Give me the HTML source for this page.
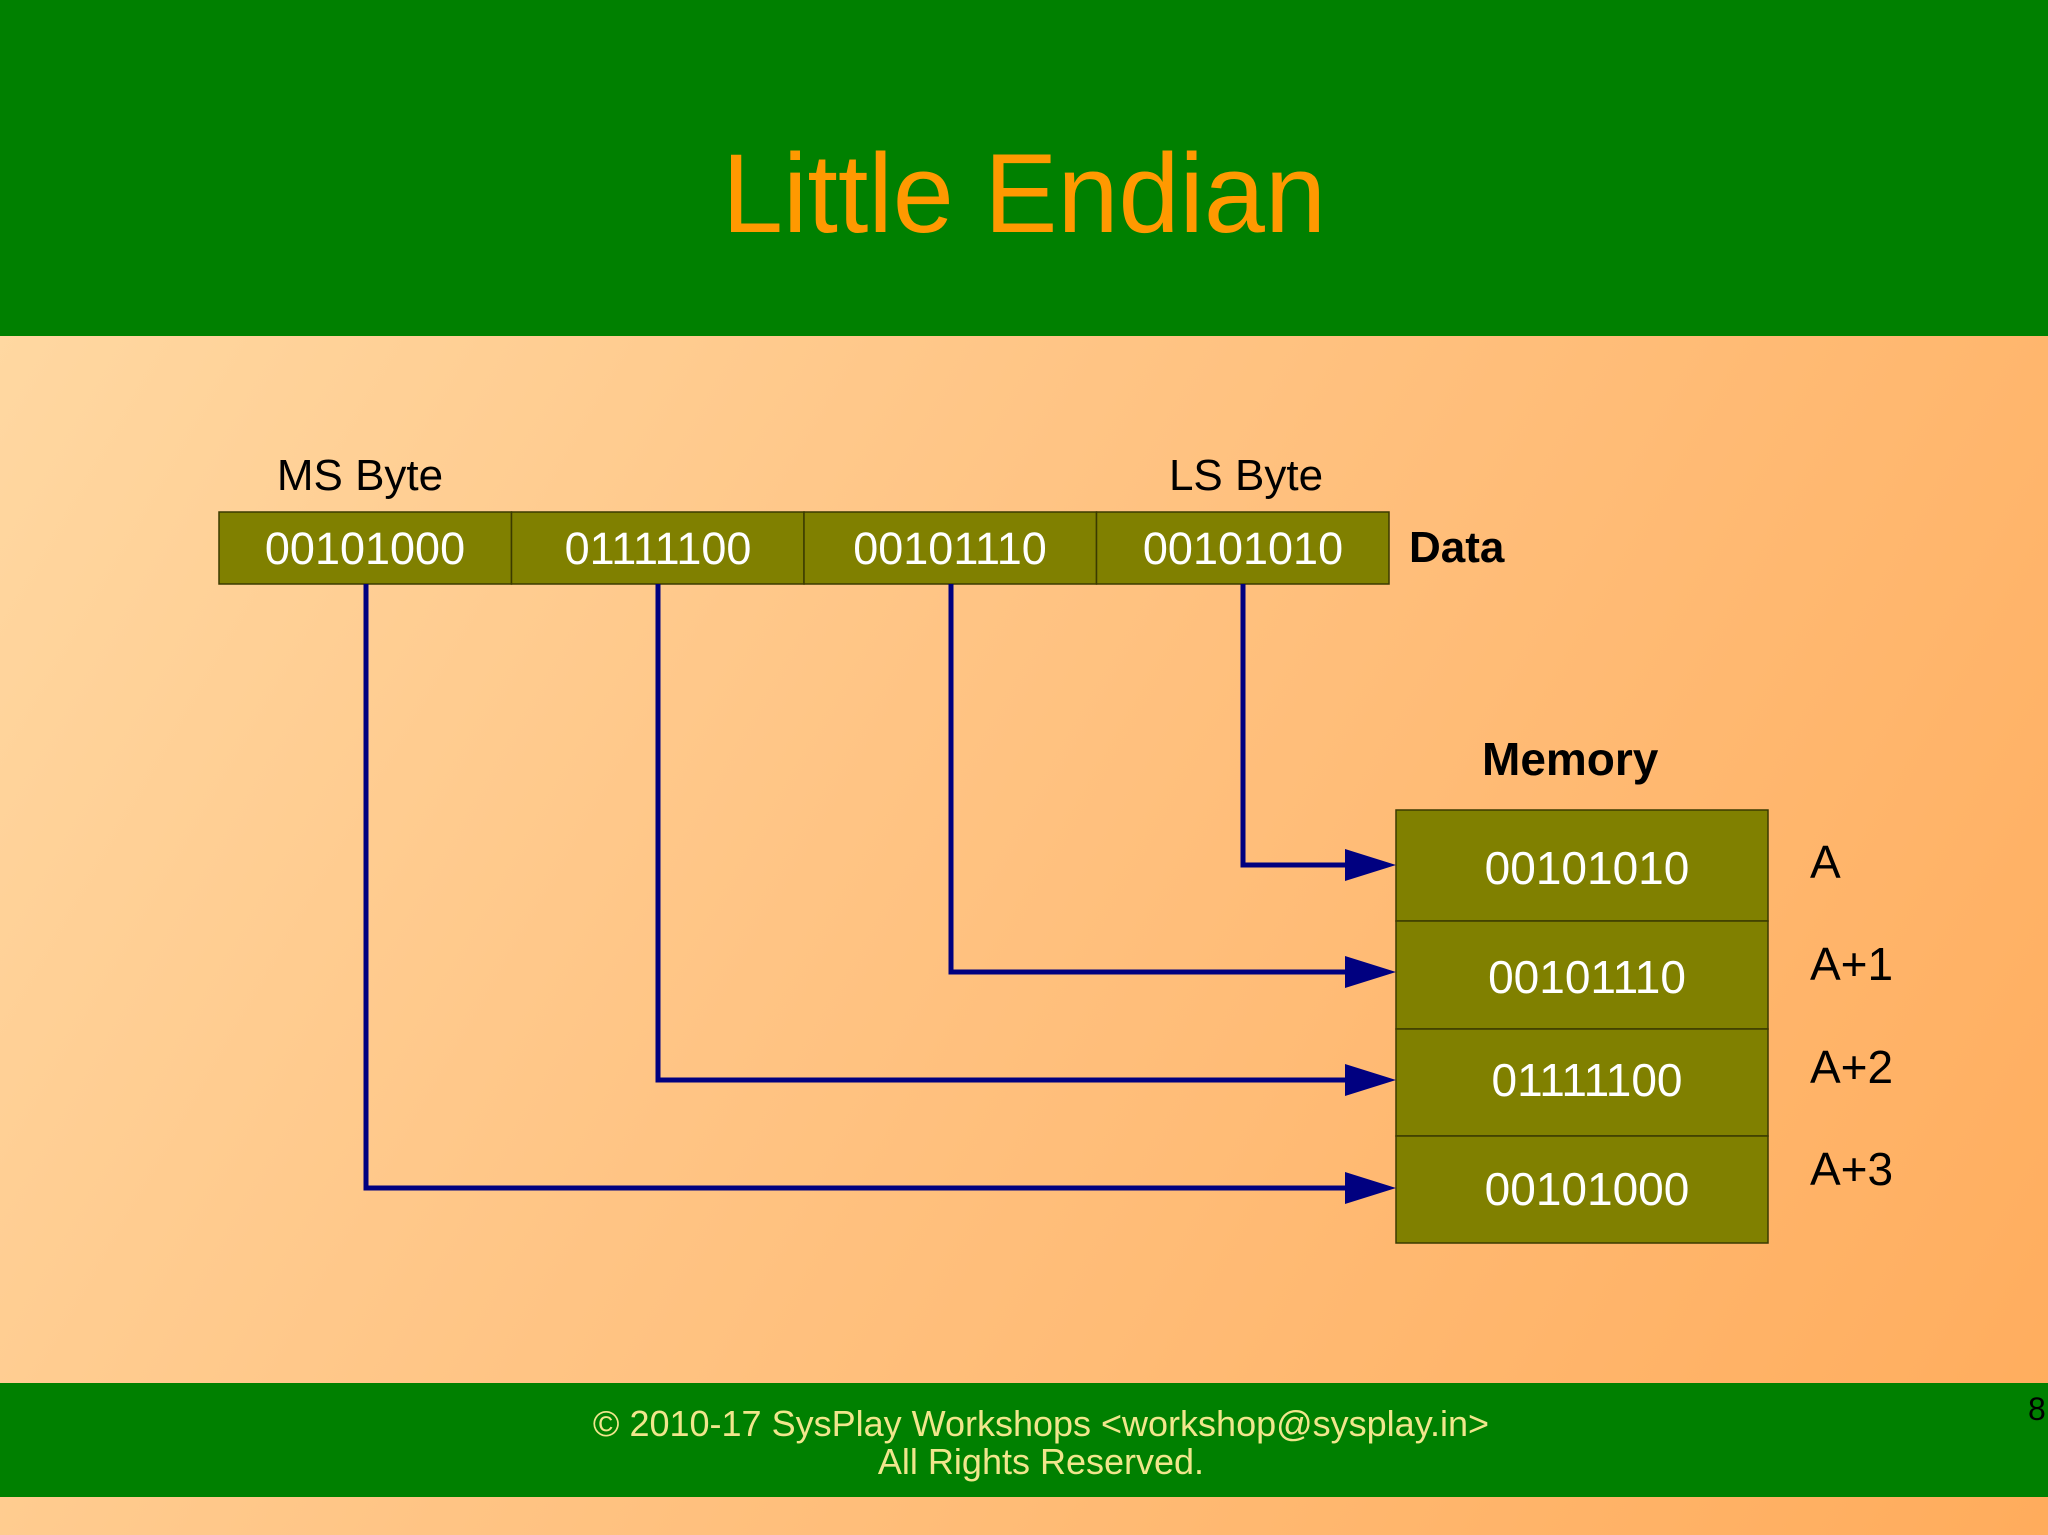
<!DOCTYPE html>
<html><head><meta charset="utf-8"><style>
html,body{margin:0;padding:0}
body{width:2048px;height:1535px;overflow:hidden;background:linear-gradient(120deg,#ffdba6 0%,#ffc484 45%,#ffac5c 100%);font-family:"Liberation Sans",sans-serif}
</style></head><body>
<svg width="2048" height="1535" viewBox="0 0 2048 1535" xmlns="http://www.w3.org/2000/svg" style="position:absolute;left:0;top:0;font-family:'Liberation Sans',sans-serif">
<rect x="0" y="0" width="2048" height="336" fill="#008000"/>
<text x="1024" y="232" text-anchor="middle" font-size="112" fill="#ff9900" textLength="604" lengthAdjust="spacingAndGlyphs">Little Endian</text>
<text x="360" y="490" text-anchor="middle" font-size="44" fill="#000">MS Byte</text>
<text x="1246" y="490" text-anchor="middle" font-size="44" fill="#000">LS Byte</text>
<g stroke="#3a3a00" stroke-width="1.5" fill="#808000">
<rect x="219" y="512" width="292.5" height="72"/>
<rect x="511.5" y="512" width="292.5" height="72"/>
<rect x="804" y="512" width="292.5" height="72"/>
<rect x="1096.5" y="512" width="292.5" height="72"/>
</g>
<g font-size="45" fill="#fff" text-anchor="middle">
<text x="365" y="564">00101000</text>
<text x="658" y="564">01111100</text>
<text x="950" y="564">00101110</text>
<text x="1243" y="564">00101010</text>
</g>
<text x="1409" y="562" font-size="44" font-weight="bold" fill="#000">Data</text>
<text x="1482" y="775" font-size="46" font-weight="bold" fill="#000">Memory</text>
<g stroke="#3a3a00" stroke-width="1.5" fill="#808000">
<rect x="1396" y="810" width="372" height="111"/>
<rect x="1396" y="921" width="372" height="108"/>
<rect x="1396" y="1029" width="372" height="107"/>
<rect x="1396" y="1136" width="372" height="107"/>
</g>
<g font-size="46" fill="#fff" text-anchor="middle">
<text x="1587" y="884">00101010</text>
<text x="1587" y="993">00101110</text>
<text x="1587" y="1096">01111100</text>
<text x="1587" y="1205">00101000</text>
</g>
<g font-size="46" fill="#000">
<text x="1810" y="878">A</text>
<text x="1810" y="980">A+1</text>
<text x="1810" y="1083">A+2</text>
<text x="1810" y="1185">A+3</text>
</g>
<g stroke="#000080" stroke-width="5" fill="none">
<polyline points="1243,584 1243,865 1350,865"/>
<polyline points="951,584 951,972 1350,972"/>
<polyline points="658,584 658,1080 1350,1080"/>
<polyline points="366,584 366,1188 1350,1188"/>
</g>
<g fill="#000080">
<polygon points="1345,849 1396,865 1345,881"/>
<polygon points="1345,956 1396,972 1345,988"/>
<polygon points="1345,1064 1396,1080 1345,1096"/>
<polygon points="1345,1172 1396,1188 1345,1204"/>
</g>
<rect x="0" y="1383" width="2048" height="114" fill="#008000"/>
<g font-size="36" fill="#f0e68c" text-anchor="middle">
<text x="1041" y="1436">© 2010-17 SysPlay Workshops &lt;workshop@sysplay.in&gt;</text>
<text x="1041" y="1474">All Rights Reserved.</text>
</g>
<text x="2028" y="1420" font-size="32" fill="#000">8</text>
</svg>
</body></html>
